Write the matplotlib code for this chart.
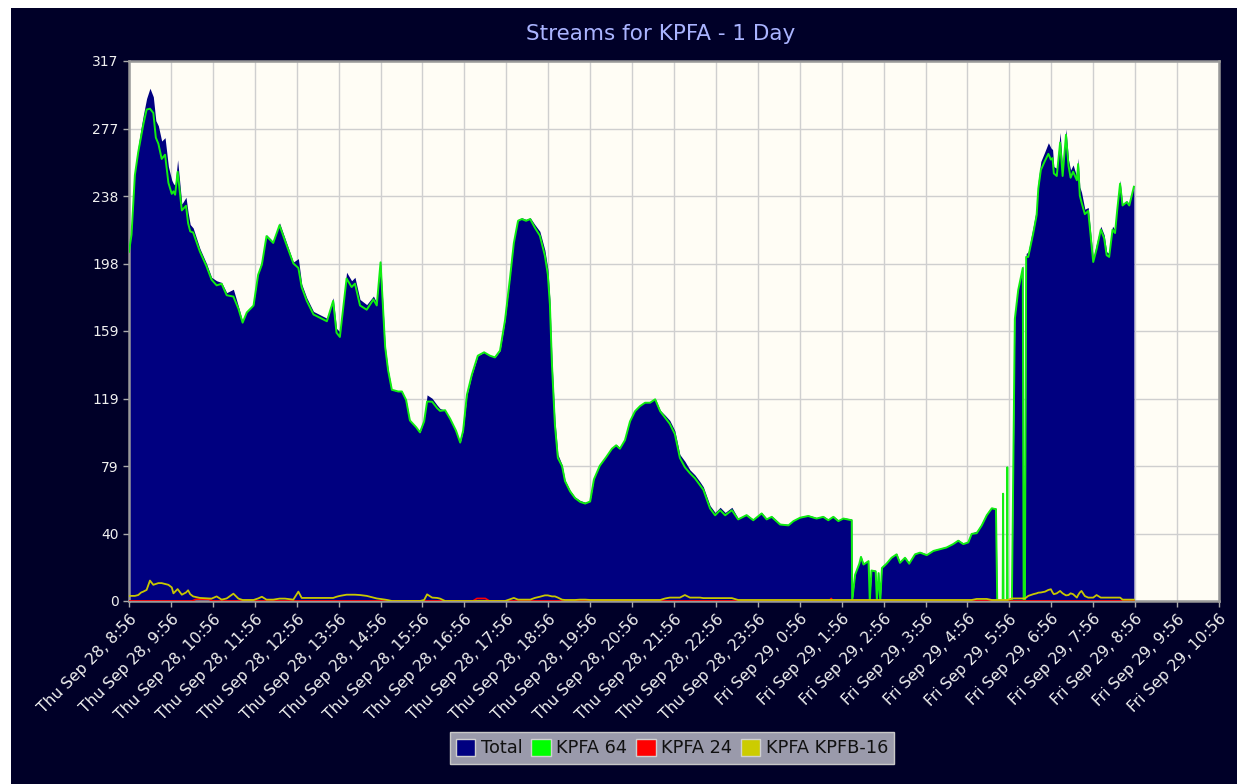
from datetime import datetime, timedelta

import matplotlib
matplotlib.use("Agg")
import matplotlib.pyplot as plt
import numpy as np
from matplotlib.patches import Patch, Rectangle

# hours after Thu Sep 28, 8:56
hours = [
    0.00, 0.06, 0.14, 0.22, 0.29, 0.34, 0.42, 0.50, 0.58, 0.64, 0.70, 0.78, 0.86, 0.94, 1.02, 1.06,
    1.10, 1.16, 1.26, 1.36, 1.41, 1.46, 1.53, 1.69, 1.85, 1.97, 2.09, 2.21, 2.33, 2.49, 2.61, 2.71,
    2.81, 2.97, 3.08, 3.17, 3.28, 3.44, 3.59, 3.72, 3.92, 4.04, 4.12, 4.24, 4.40, 4.56, 4.72, 4.87,
    4.95, 5.03, 5.19, 5.31, 5.39, 5.51, 5.67, 5.83, 5.91, 6.00, 6.11, 6.18, 6.27, 6.42, 6.51, 6.61,
    6.70, 6.85, 6.94, 7.04, 7.11, 7.23, 7.35, 7.42, 7.54, 7.66, 7.80, 7.90, 7.97, 8.06, 8.18, 8.32,
    8.47, 8.61, 8.73, 8.85, 8.97, 9.09, 9.18, 9.28, 9.37, 9.47, 9.57, 9.68, 9.80, 9.92, 9.99, 10.04,
    10.09, 10.16, 10.23, 10.33, 10.40, 10.52, 10.64, 10.76, 10.88, 11.00, 11.09, 11.23, 11.38, 11.52,
    11.62, 11.71, 11.83, 11.95, 12.07, 12.19, 12.31, 12.43, 12.55, 12.67, 12.79, 12.90, 13.02, 13.14,
    13.26, 13.38, 13.50, 13.62, 13.70, 13.86, 13.98, 14.10, 14.22, 14.38, 14.53, 14.73, 14.89, 15.09,
    15.21, 15.33, 15.53, 15.73, 15.85, 16.01, 16.20, 16.40, 16.56, 16.68, 16.80, 16.92, 17.04, 17.24,
    17.25, 17.32, 17.42, 17.46, 17.52, 17.64, 17.67, 17.71, 17.81, 17.84, 17.88, 17.92, 17.96, 18.07,
    18.19, 18.31, 18.39, 18.51, 18.61, 18.75, 18.87, 19.03, 19.19, 19.35, 19.50, 19.66, 19.78, 19.90,
    20.02, 20.10, 20.22, 20.34, 20.46, 20.58, 20.68, 20.71, 20.84, 20.85, 20.86, 20.94, 20.95, 20.96,
    21.06, 21.13, 21.21, 21.32, 21.34, 21.37, 21.40, 21.45, 21.57, 21.65, 21.69, 21.75, 21.85, 21.93,
    21.99, 22.03, 22.06, 22.13, 22.21, 22.27, 22.35, 22.41, 22.46, 22.52, 22.61, 22.64, 22.68, 22.72,
    22.80, 22.88, 23.00, 23.08, 23.18, 23.26, 23.32, 23.38, 23.46, 23.52, 23.57, 23.64, 23.70, 23.80,
    23.86, 23.97,
]
total = [
    208, 218, 253, 267, 278, 285, 295, 301, 296, 282, 279, 270, 272, 255, 247, 245,
    244, 259, 233, 237, 228, 221, 219, 207, 198, 190, 188, 187, 181, 183, 173, 164,
    170, 174, 193, 200, 215, 211, 222, 213, 199, 201, 186, 178, 170, 168, 166, 178,
    160, 158, 193, 188, 190, 177, 174, 179, 175, 200, 150, 136, 124, 123, 123, 118,
    106, 102, 99, 106, 121, 119, 115, 113, 112, 107, 100, 93, 100, 121, 133, 144,
    146, 144, 143, 147, 165, 191, 212, 224, 225, 224, 225, 221, 217, 206, 195, 177,
    141, 106, 86, 80, 71, 65, 61, 59, 58, 59, 72, 80, 85, 90,
    92, 90, 95, 106, 112, 115, 117, 117, 119, 112, 109, 106, 100, 86,
    82, 77, 74, 70, 67, 56, 52, 55, 52, 55, 48.5, 51, 48, 52,
    48.5, 50, 45.5, 45, 47.5, 49.5, 50.5, 49, 50, 48, 50, 47.5, 49, 48,
    0, 16, 22.5, 26.5, 22, 24, 0, 18.5, 18, 0, 17, 0, 20, 22.5,
    26, 28, 23, 26, 22.5, 28, 29, 27.5, 30, 31, 32, 34, 36, 34,
    35, 40, 41, 45.5, 51.5, 55, 54.5, 0, 0, 0, 0, 0, 0, 0,
    0, 167, 184, 197, 0, 0, 204, 205, 220, 231, 247, 258, 264, 269,
    266, 265, 255, 254, 275, 254, 277, 259, 253, 256, 249, 260, 243, 240,
    230, 231, 201, 210, 220, 215, 205, 204, 220, 218, 231, 247, 233, 235,
    233, 244,
]
kpfb16 = [
    3, 3, 3, 3.5, 5, 5.5, 6.5, 12, 9.5, 10, 10.5, 10.5, 10, 9.5, 8, 4.5,
    5.5, 7, 3.7, 5, 6.3, 4, 2.7, 1.8, 1.6, 1.4, 2.7, 0.8, 1.5, 4.3, 1.4, 0.6,
    0.6, 0.6, 1.5, 2.5, 0.8, 0.8, 1.4, 1.4, 0.8, 5.5, 1.8, 1.8, 1.8, 1.8, 1.8, 1.8,
    2.5, 3, 3.7, 3.7, 3.7, 3.5, 3, 2, 1.5, 1.2, 0.8, 0.5, 0, 0, 0, 0,
    0, 0, 0, 0.6, 3.9, 2, 1.8, 1.4, 0, 0, 0, 0, 0, 0, 0, 0,
    0, 0, 0, 0, 0, 1, 1.8, 0.8, 0.8, 0.8, 0.8, 1.8, 2.5, 3.3, 3.3, 3,
    2.7, 2.7, 2, 0.8, 0.6, 0.6, 0.6, 0.8, 0.8, 0.6, 0.6, 0.6, 0.6, 0.6,
    0.6, 0.6, 0.6, 0.6, 0.6, 0.6, 0.6, 0.6, 0.6, 0.6, 1.5, 2, 2, 2,
    3.5, 2, 2, 2, 1.7, 1.7, 1.7, 1.7, 1.7, 1.7, 0.6, 0.6, 0.6, 0.6,
    0.6, 0.6, 0.6, 0.6, 0.6, 0.6, 0.6, 0.6, 0.6, 0.6, 0.6, 0.6, 0.6, 0.6,
    0.6, 0.6, 0.6, 0.6, 0.6, 0.6, 0.6, 0.6, 0.6, 0.6, 0.6, 0.6, 0.6, 0.6,
    0.6, 0.6, 0.6, 0.6, 0.6, 0.6, 0.6, 0.6, 0.6, 0.6, 0.6, 0.6, 0.6, 0.6,
    0.6, 0.6, 1.2, 1.2, 1.2, 0.6, 0.6, 0.6, 0.6, 0.6, 0.6, 0.6, 0.6, 0.6,
    1.5, 1.5, 1.5, 1.5, 1.5, 1.5, 2, 3, 4, 4.5, 4.9, 5, 5.5, 6.5,
    6.9, 5, 4, 4.5, 5.9, 4.5, 3.3, 3.5, 4.5, 4, 2, 3.5, 5, 5.9,
    2.9, 2, 2, 3.5, 2, 2, 2, 2, 2, 2, 2, 2, 0.8, 0.8,
    0.8, 0.8,
]
# KPFA 64 readings where the total dropped out
kpfa64_spike_hours = [20.85, 20.95]
kpfa64_spikes = [63, 78.5]

kpfa24_hours = [0.0, 1.5, 1.6, 1.9, 2.0, 8.2, 8.3, 8.5, 8.6, 16.7, 16.75, 16.8, 23.97]
kpfa24 = [0, 0, 1, 1, 0, 0, 1.5, 1.5, 0, 0, 1.5, 0, 0]

ytick_labels = ["0", "40", "79", "119", "159", "198", "238", "277", "317"]
start = datetime(2023, 9, 28, 8, 56)
xtick_labels = [f"{t:%a %b %d}, {t.hour}:{t:%M}" for t in (start + timedelta(hours=k) for k in range(27))]

hours = np.asarray(hours)
total = np.asarray(total, dtype=float)
kpfa64 = np.clip(total - np.asarray(kpfb16), 0, None)
for h, v in zip(kpfa64_spike_hours, kpfa64_spikes):
    kpfa64[np.isclose(hours, h)] = v

bg = "#000028"
fig = plt.figure(figsize=(12.37, 7.84), dpi=100, facecolor="white")
fig.patches.append(Rectangle((11 / 1237, 0), 1 - 11 / 1237, 1 - 8 / 784, transform=fig.transFigure,
                             facecolor=bg, edgecolor="none", zorder=-10))
ax = fig.add_axes([129 / 1237, 183 / 784, 1090 / 1237, 540 / 784])
ax.set_zorder(1)
ax.set_facecolor("#fffdf5")

ax.fill_between(hours, total, color="#000080", lw=0, zorder=2)
ax.plot(hours, kpfa64, color="#11ee11", lw=1.4, zorder=3)
ax.plot(kpfa24_hours, kpfa24, color="#ff0000", lw=1.2, zorder=4)
ax.plot(hours, kpfb16, color="#c8c800", lw=1.3, zorder=5)

ax.set_xlim(0, 26)
ax.set_ylim(0, 317)
ax.set_yticks(np.linspace(0, 317, 9), ytick_labels)
ax.set_xticks(range(27), xtick_labels, rotation=45, ha="right", rotation_mode="anchor")
ax.grid(True, color="#cfcfcf", lw=1, zorder=1)
ax.set_axisbelow(True)
ax.tick_params(colors="#aaaaaa", labelcolor="#f0f0f0", labelsize=10, length=4, width=1)
ax.tick_params(axis="x", labelsize=11.2)
for spine in ax.spines.values():
    spine.set_color("#999999")
    spine.set_linewidth(1.8)

fig.text(661 / 1237, 1 - 34 / 784, "Streams for KPFA - 1 Day", color="#aab4ff",
         fontsize=15.5, ha="center", va="center")

handles = [
    Patch(facecolor="#000080", edgecolor="#d0d0d0", label="Total"),
    Patch(facecolor="#00ff00", edgecolor="#d0d0d0", label="KPFA 64"),
    Patch(facecolor="#ff0000", edgecolor="#d0d0d0", label="KPFA 24"),
    Patch(facecolor="#cccc00", edgecolor="#d0d0d0", label="KPFA KPFB-16"),
]
legend = fig.legend(handles=handles, loc="center", bbox_to_anchor=(672 / 1237, 1 - 748 / 784), ncol=4,
                    fontsize=12.8, frameon=True, fancybox=False, handlelength=1.1, handleheight=1.1,
                    handletextpad=0.3, columnspacing=0.5, borderpad=0.35, labelcolor="#111111")
legend.get_frame().set_facecolor("#9a9aab")
legend.get_frame().set_edgecolor("#c8c8c8")
legend.get_frame().set_alpha(1)

fig.savefig("out.png", dpi=100, facecolor=fig.get_facecolor())
